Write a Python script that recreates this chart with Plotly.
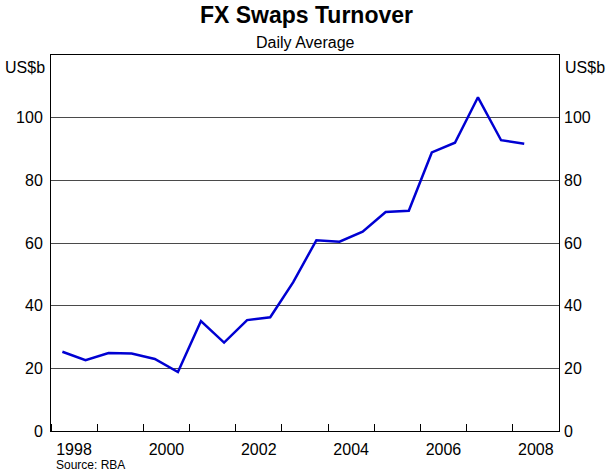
import plotly.graph_objects as go

# Survey dates (semi-annual, April / October)
dates = [
    "1998-04-01", "1998-10-01", "1999-04-01", "1999-10-01", "2000-04-01",
    "2000-10-01", "2001-04-01", "2001-10-01", "2002-04-01", "2002-10-01",
    "2003-04-01", "2003-10-01", "2004-04-01", "2004-10-01", "2005-04-01",
    "2005-10-01", "2006-04-01", "2006-10-01", "2007-04-01", "2007-10-01",
    "2008-04-01",
]
# FX swaps turnover, daily average, US$b
turnover = [
    25.3, 22.6, 24.9, 24.7, 23.0,
    18.8, 35.1, 28.2, 35.4, 36.3,
    47.5, 60.9, 60.4, 63.6, 69.9,
    70.3, 88.9, 92.0, 106.5, 92.8,
    91.7,
]
year_tick_vals = ["1998-07-02", "2000-07-02", "2002-07-02", "2004-07-02",
                  "2006-07-02", "2008-07-02"]
year_tick_text = ["1998", "2000", "2002", "2004", "2006", "2008"]
y_tick_vals = [0, 20, 40, 60, 80, 100]

FONT = "Liberation Sans, Arial, sans-serif"

fig = go.Figure()
fig.add_trace(go.Scatter(
    x=dates, y=turnover, mode="lines",
    line=dict(color="#0000D2", width=2.5),
    showlegend=False, hoverinfo="skip",
))
# invisible trace for the right axis
fig.add_trace(go.Scatter(x=dates, y=turnover, yaxis="y2", mode="lines",
                         line=dict(width=0), opacity=0, showlegend=False,
                         hoverinfo="skip"))

fig.update_layout(
    width=613, height=471,
    margin=dict(l=51, r=54, t=55, b=40),
    paper_bgcolor="white", plot_bgcolor="white",
    font=dict(family=FONT, color="black", size=16),
    title=dict(text="<b>FX Swaps Turnover</b>", x=0.5, xanchor="center",
               yref="container", y=1 - 15 / 471, yanchor="middle",
               font=dict(size=23, family=FONT, color="black")),
    xaxis=dict(
        type="date",
        range=["1998-01-01", "2009-01-01"],
        tickmode="array", tickvals=year_tick_vals, ticktext=year_tick_text,
        ticks="", showgrid=False, zeroline=False,
        showline=True, linecolor="black", linewidth=1, mirror=True,
        ticklabelstandoff=4,
        tickfont=dict(size=16),
        minor=dict(ticks="inside", ticklen=7, tickcolor="black", tickwidth=1,
                   tickmode="linear", tick0="1998-01-01", dtick="M12",
                   showgrid=False),
    ),
    yaxis=dict(
        range=[0, 120], tickmode="array", tickvals=y_tick_vals,
        ticks="", showgrid=True, gridcolor="#4a4a4a", gridwidth=1,
        zeroline=False, showline=True, linecolor="black", linewidth=1,
        mirror=True, ticklabelstandoff=4, tickfont=dict(size=16),
    ),
    yaxis2=dict(
        range=[0, 120], tickmode="array", tickvals=y_tick_vals,
        overlaying="y", side="right", ticks="", showgrid=False,
        zeroline=False, showline=False, ticklabelstandoff=4,
        tickfont=dict(size=16),
    ),
    annotations=[
        dict(text="Daily Average", xref="paper", yref="paper", x=0.5,
             y=(431 - 42) / 376, xanchor="center", yanchor="middle",
             showarrow=False, font=dict(size=16)),
        dict(text="US$b", xref="paper", yref="paper", x=0, xshift=-4,
             y=(431 - 67) / 376, xanchor="right", yanchor="middle",
             showarrow=False, font=dict(size=16)),
        dict(text="US$b", xref="paper", yref="paper", x=1, xshift=4,
             y=(431 - 67) / 376, xanchor="left", yanchor="middle",
             showarrow=False, font=dict(size=16)),
        dict(text="Source: RBA", xref="paper", yref="paper", x=0.006,
             y=(431 - 465) / 376, xanchor="left", yanchor="middle",
             showarrow=False, font=dict(size=12)),
    ],
)

fig.write_html("out.html",
               config={"displayModeBar": False},
               post_script="document.body.style.margin='0';"
                           "document.body.style.overflow='hidden';")
